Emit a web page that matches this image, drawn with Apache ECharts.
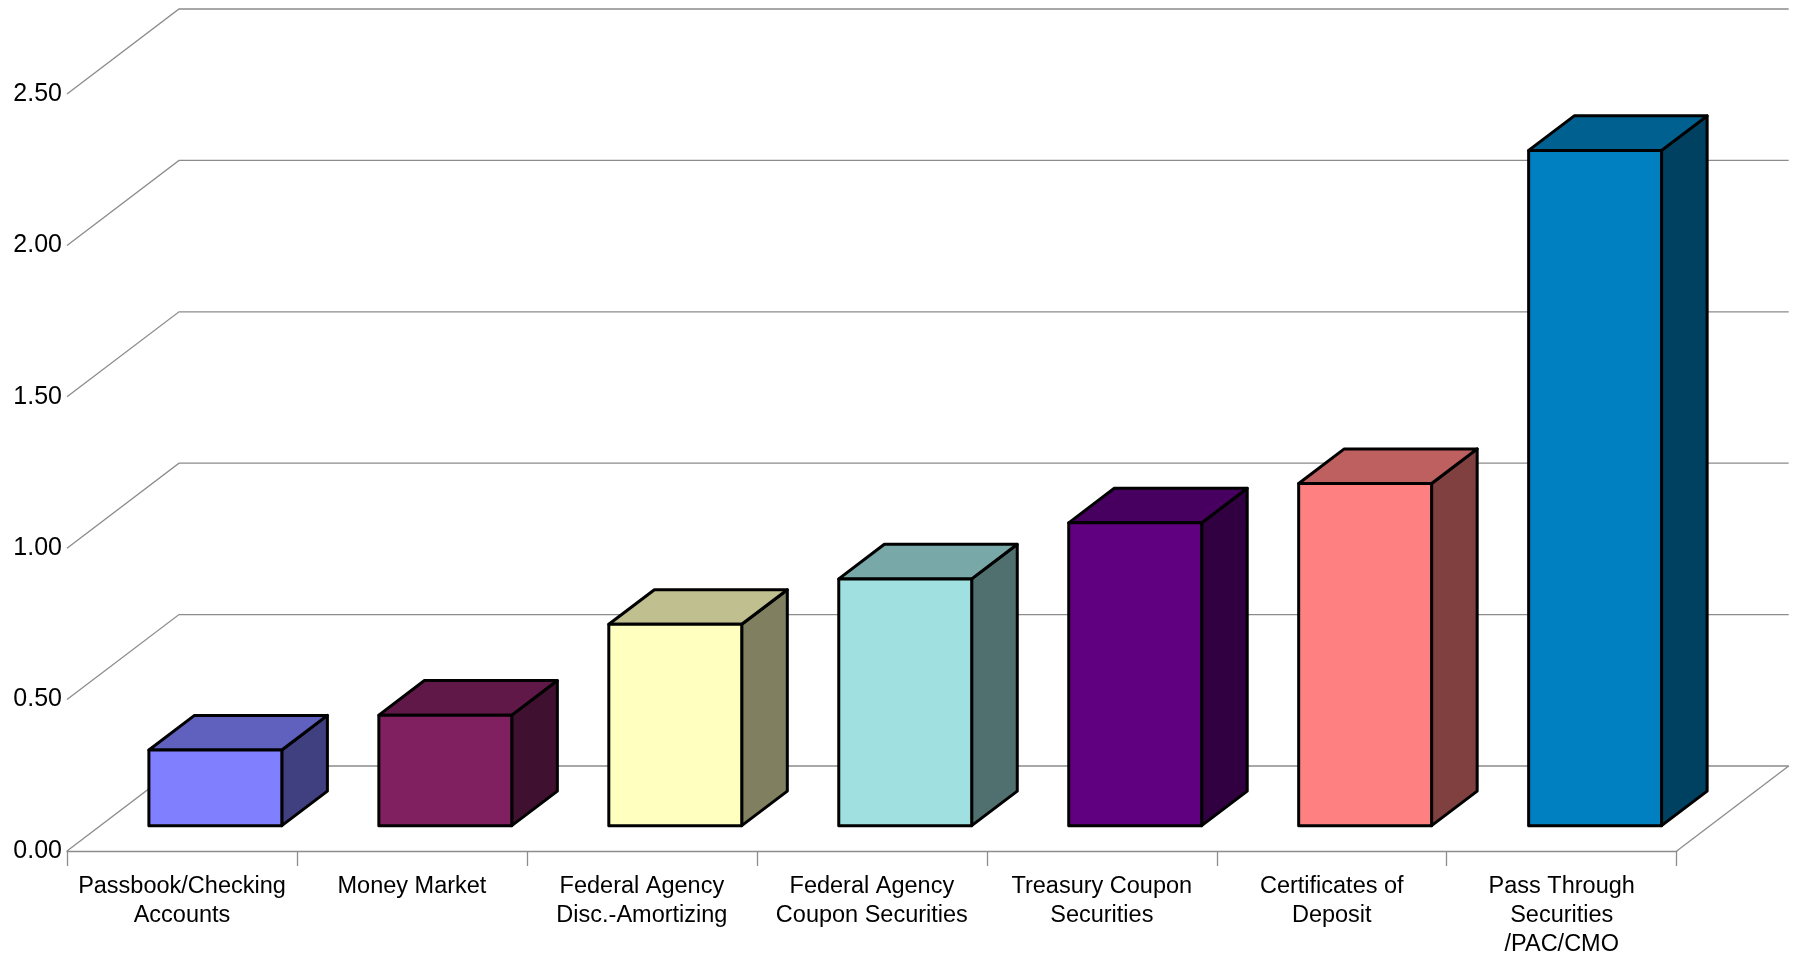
<!DOCTYPE html>
<html>
<head>
<meta charset="utf-8">
<style>
html,body{margin:0;padding:0;background:#ffffff;}
#chart{width:1797px;height:959px;}
</style>
<script src="https://cdn.jsdelivr.net/npm/echarts@6/dist/echarts.min.js"></script>
</head>
<body>
<div id="chart"></div>
<script>
// ---- data ----
const categories = [
  'Passbook/Checking\nAccounts',
  'Money Market',
  'Federal Agency\nDisc.-Amortizing',
  'Federal Agency\nCoupon Securities',
  'Treasury Coupon\nSecurities',
  'Certificates of\nDeposit',
  'Pass Through\nSecurities\n/PAC/CMO'
];
const values = [0.25, 0.365, 0.665, 0.815, 1.00, 1.13, 2.23];
const yTicks = [0, 0.5, 1.0, 1.5, 2.0, 2.5];

// ---- styles ----
const frontColors = ['#8080FF', '#802060', '#FFFFC0', '#A0E0E0', '#600080', '#FF8080', '#0080C0'];
function shade(hex, f) {
  const n = parseInt(hex.slice(1), 16);
  const r = Math.round(((n >> 16) & 255) * f);
  const g = Math.round(((n >> 8) & 255) * f);
  const b = Math.round((n & 255) * f);
  return 'rgb(' + r + ',' + g + ',' + b + ')';
}
const DX = 112, DY = -85;      // full depth offset of the 3D floor
const FZ = 0.298, BZ = 0.705;  // bar front / back depth fraction
const BAR_W = 0.578;           // bar width as fraction of category
const GRID_COLOR = '#8c8c8c';

const chart = echarts.init(document.getElementById('chart'));

const option = {
  animation: false,
  backgroundColor: '#ffffff',
  grid: { left: 67, right: 120.3, top: 94, bottom: 108, containLabel: false },
  xAxis: {
    type: 'category',
    data: categories,
    boundaryGap: true,
    axisLine: { show: true, lineStyle: { color: GRID_COLOR, width: 1.3 } },
    axisTick: { show: true, length: 15, alignWithLabel: false, lineStyle: { color: GRID_COLOR, width: 1.3 } },
    axisLabel: {
      interval: 0,
      margin: 21,
      color: '#000000',
      fontFamily: 'Liberation Sans, Arial, sans-serif',
      fontSize: 23.5,
      lineHeight: 29
    },
    splitLine: { show: false }
  },
  yAxis: {
    type: 'value',
    min: 0,
    max: 2.5,
    interval: 0.5,
    axisLine: { show: false },
    axisTick: { show: false },
    splitLine: { show: false },
    axisLabel: {
      margin: 5,
      color: '#000000',
      fontFamily: 'Liberation Sans, Arial, sans-serif',
      fontSize: 25,
      formatter: function (v) { return v.toFixed(2); }
    }
  },
  series: [
    {
      type: 'custom',
      name: 'grid',
      silent: true,
      clip: false,
      z: 1,
      encode: { x: 0, y: 1 },
      data: yTicks.map(function (v) { return [0, v]; }),
      renderItem: function (params, api) {
        const v = api.value(1);
        const cw = api.size([1, 0])[0];
        const L = api.coord([0, v]);
        const R = api.coord([categories.length - 1, v]);
        const xl = L[0] - cw / 2, xr = R[0] + cw / 2, y = L[1];
        const children = [{
          type: 'polyline',
          shape: { points: [[xl, y], [xl + DX, y + DY], [xr + DX, y + DY]] },
          style: { stroke: GRID_COLOR, lineWidth: 1.3, fill: null }
        }];
        if (v === 0) {
          children.push({
            type: 'line',
            shape: { x1: xr, y1: y, x2: xr + DX, y2: y + DY },
            style: { stroke: GRID_COLOR, lineWidth: 1.3 }
          });
        }
        return { type: 'group', children: children };
      }
    },
    {
      type: 'custom',
      name: 'bars',
      silent: true,
      clip: false,
      z: 5,
      encode: { x: 0, y: 1 },
      data: values.map(function (v, i) { return [i, v]; }),
      renderItem: function (params, api) {
        const i = api.value(0);
        const v = api.value(1);
        const c0 = api.coord([i, 0]);
        const c1 = api.coord([i, v]);
        const cw = api.size([1, 0])[0];
        const bw = cw * BAR_W;
        const fx = FZ * DX, fy = FZ * DY;
        const bx = BZ * DX, by = BZ * DY;
        const xL = c0[0] - bw / 2 + fx, xR = c0[0] + bw / 2 + fx;
        const yB = c0[1] + fy, yT = c1[1] + fy;
        const ddx = bx - fx, ddy = by - fy;
        const col = frontColors[i];
        const stroke = { stroke: '#000000', lineWidth: 3, lineJoin: 'round' };
        return {
          type: 'group',
          children: [
            {
              type: 'polygon',
              shape: { points: [[xR, yB], [xR, yT], [xR + ddx, yT + ddy], [xR + ddx, yB + ddy]] },
              style: Object.assign({ fill: shade(col, 0.5) }, stroke)
            },
            {
              type: 'polygon',
              shape: { points: [[xL, yT], [xR, yT], [xR + ddx, yT + ddy], [xL + ddx, yT + ddy]] },
              style: Object.assign({ fill: shade(col, 0.75) }, stroke)
            },
            {
              type: 'polygon',
              shape: { points: [[xL, yB], [xR, yB], [xR, yT], [xL, yT]] },
              style: Object.assign({ fill: col }, stroke)
            }
          ]
        };
      }
    }
  ]
};

chart.setOption(option);
</script>
</body>
</html>
